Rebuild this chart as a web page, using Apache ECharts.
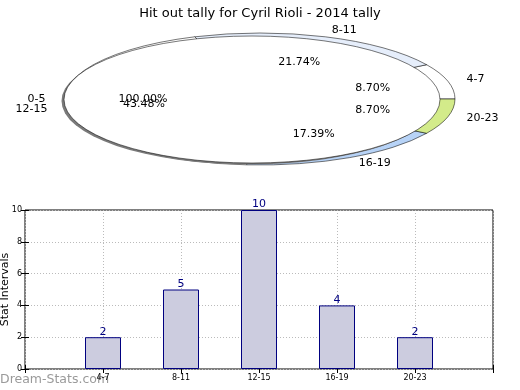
<!DOCTYPE html>
<html>
<head>
<meta charset="utf-8">
<script src="https://cdn.jsdelivr.net/npm/echarts@6/dist/echarts.min.js"></script>
<style>html,body{margin:0;padding:0;background:#fff}#c{width:520px;height:390px}</style>
</head>
<body>
<div id="c"></div>
<script>
const titleText = 'Hit out tally for Cyril Rioli - 2014 tally';
const categories = ['4-7', '8-11', '12-15', '16-19', '20-23'];
const values = [2, 5, 10, 4, 2];
const sliceColors = ['#ffffff', '#e6eefb', '#ffffff', '#b7d3f7', '#d3eb8a'];
const overlayCategories = ['0-5'];
const overlayValues = [1];
const yTicks = [0, 2, 4, 6, 8, 10];

const FONT = '"DejaVu Sans", sans-serif';
const total = values.reduce((a, b) => a + b, 0);
const cum = [];
values.reduce((acc, v, i) => { cum[i] = acc; return acc + v; }, 0);

// pie geometry (ellipse)
const CX = 260, CY = 99, RX = 195, RY = 66;
// overlay ellipse (drawn on top, as in the reference)
const OX = 252, OY = 99.5, ORX = 188, ORY = 63.5;

function pieLabels(name, pct, midFrac) {
  const a = midFrac * 2 * Math.PI;
  const c = Math.cos(a), s = Math.sin(a);
  return [
    { type: 'text', x: CX + 1.1 * RX * c, y: CY - 1.1 * RY * s,
      style: { text: name, fill: '#000', font: '11px ' + FONT, align: c > 0 ? 'left' : 'right', verticalAlign: 'middle' } },
    { type: 'text', x: CX + 0.6 * RX * c, y: CY - 0.6 * RY * s,
      style: { text: pct, fill: '#000', font: '11px ' + FONT, align: 'center', verticalAlign: 'middle' } }
  ];
}

const chart = echarts.init(document.getElementById('c'), null, { renderer: 'canvas' });
chart.setOption({
  animation: false,
  title: { text: titleText, left: 'center', top: 2, textStyle: { fontFamily: FONT, fontSize: 13, fontWeight: 'normal', color: '#000' } },
  graphic: [{
    type: 'text', left: 0, top: 373,
    style: { text: 'Dream-Stats.com', fill: '#9a9a9a', font: '12.5px ' + FONT }
  }],
  grid: { left: 25, top: 210, right: 27, bottom: 21, containLabel: false, outerBoundsMode: 'none',
    show: true, borderColor: '#000', borderWidth: 1, backgroundColor: 'transparent' },
  xAxis: [{
    type: 'value', min: 0, max: 6, interval: 1,
    axisLine: { show: false },
    axisTick: { show: true, inside: true, length: 4, lineStyle: { color: '#000' } },
    axisLabel: { fontSize: 8, color: '#000', fontFamily: FONT, margin: 5,
      formatter: v => (v >= 1 && v <= categories.length) ? categories[v - 1] : '' },
    splitLine: { show: true, lineStyle: { color: '#bbbbbb', type: [1, 2], width: 1 } }
  }, {
    type: 'value', position: 'top', min: 0, max: 6, interval: 1,
    axisLine: { show: false },
    axisTick: { show: true, inside: true, length: 4, lineStyle: { color: '#000' } },
    axisLabel: { show: false }, splitLine: { show: false }
  }],
  yAxis: [{
    type: 'value', min: yTicks[0], max: yTicks[yTicks.length - 1], interval: 2,
    name: 'Stat Intervals', nameLocation: 'middle', nameGap: 14, nameRotate: 90, nameMoveOverlap: false,
    nameTextStyle: { fontSize: 11, fontFamily: FONT, color: '#000' },
    axisLine: { show: false },
    axisTick: { show: true, inside: true, length: 4, lineStyle: { color: '#000' } },
    axisLabel: { fontSize: 8, color: '#000', fontFamily: FONT, margin: 3 },
    splitLine: { show: true, lineStyle: { color: '#bbbbbb', type: [1, 2], width: 1 } }
  }, {
    type: 'value', position: 'right', min: yTicks[0], max: yTicks[yTicks.length - 1], interval: 2,
    axisLine: { show: false },
    axisTick: { show: true, inside: true, length: 4, lineStyle: { color: '#000' } },
    axisLabel: { show: false }, splitLine: { show: false }
  }],
  series: [
    {
      type: 'bar', xAxisIndex: 0, yAxisIndex: 0, barWidth: 36, z: 3,
      data: values.map((v, i) => [i + 1, v]),
      itemStyle: { color: '#ccccdf', borderColor: '#000080', borderWidth: 1 },
      label: { show: true, position: 'top', distance: 0, color: '#000080', fontSize: 11, fontFamily: FONT, formatter: p => p.value[1] }
    },
    {
      type: 'custom', coordinateSystem: 'none', z: 1, silent: true,
      data: values,
      renderItem: function (params, api) {
        const i = params.dataIndex;
        const v = api.value(0);
        const s = cum[i] / total, e = (cum[i] + v) / total;
        return {
          type: 'group', x: CX, y: CY, scaleY: RY / RX,
          children: [{
            type: 'sector',
            shape: { cx: 0, cy: 0, r: RX, r0: 0, startAngle: -s * 2 * Math.PI, endAngle: -e * 2 * Math.PI, clockwise: false },
            style: { fill: sliceColors[i], stroke: '#000', lineWidth: 0.8, strokeNoScale: true }
          }]
        };
      }
    },
    {
      type: 'custom', coordinateSystem: 'none', z: 2, silent: true,
      data: overlayValues,
      renderItem: function (params, api) {
        const i = params.dataIndex;
        const oTotal = overlayValues.reduce((a, b) => a + b, 0);
        const frac = api.value(0) / oTotal;
        return {
          type: 'group',
          children: [
            { type: 'group', x: OX - 2.5, y: OY + 1.5, scaleY: ORY / ORX,
              children: [{ type: 'sector', shape: { cx: 0, cy: 0, r: ORX, r0: 0, startAngle: 0, endAngle: -frac * 2 * Math.PI, clockwise: false },
                style: { fill: '#7a7a7a' } }] },
            { type: 'group', x: OX, y: OY, scaleY: ORY / ORX,
              children: [{ type: 'sector', shape: { cx: 0, cy: 0, r: ORX, r0: 0, startAngle: 0, endAngle: -frac * 2 * Math.PI, clockwise: false },
                style: { fill: '#ffffff', stroke: '#000', lineWidth: 0.8, strokeNoScale: true } }] }
          ].concat(pieLabels(overlayCategories[i], (frac * 100).toFixed(2) + '%', frac / 2))
        };
      }
    },
    {
      type: 'custom', coordinateSystem: 'none', z: 4, silent: true,
      data: values,
      renderItem: function (params, api) {
        const i = params.dataIndex;
        const v = api.value(0);
        const mid = (cum[i] + v / 2) / total;
        return { type: 'group', children: pieLabels(categories[i], (v / total * 100).toFixed(2) + '%', mid) };
      }
    }
  ]
});
</script>
</body>
</html>
